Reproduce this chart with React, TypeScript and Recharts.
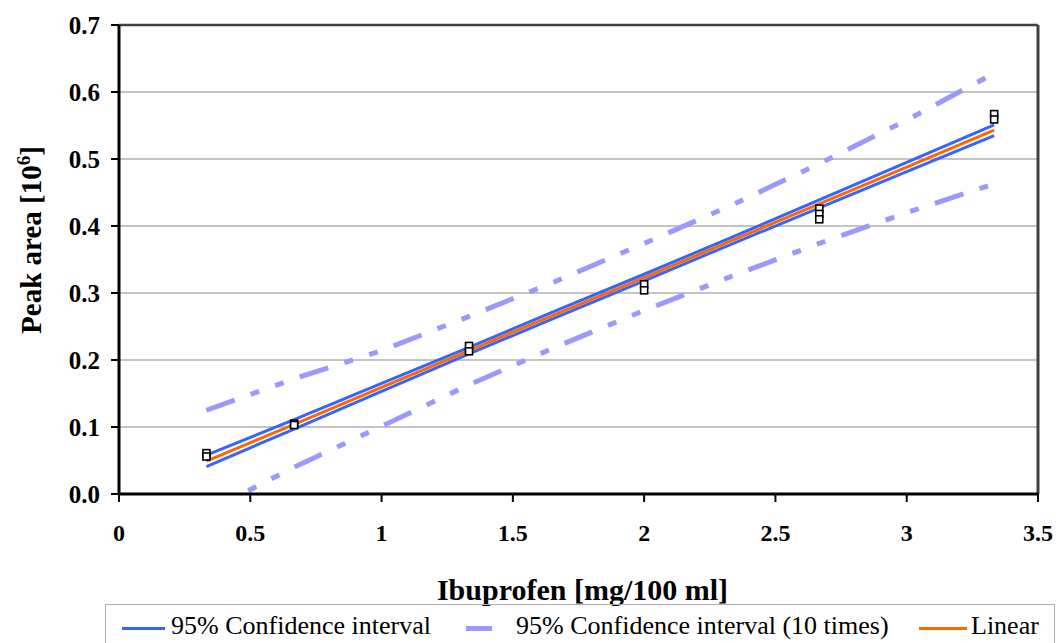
import React from "react";
import {
  ComposedChart,
  Line,
  Scatter,
  XAxis,
  YAxis,
  CartesianGrid,
  ReferenceLine,
  Label,
} from "recharts";

// concentrations where the fit / interval lines are drawn
const lineX = [0.333, 0.667, 1, 1.333, 1.667, 2, 2.333, 2.667, 3, 3.333];
const linear = [0.049, 0.104, 0.159, 0.214, 0.269, 0.323, 0.378, 0.433, 0.488, 0.543];
const ciUpper = [0.058, 0.111, 0.165, 0.219, 0.274, 0.328, 0.383, 0.439, 0.495, 0.551];
const ciLower = [0.041, 0.097, 0.153, 0.209, 0.264, 0.318, 0.373, 0.427, 0.481, 0.535];
const ci10Upper = [0.125, 0.172, 0.214, 0.265, 0.318, 0.374, 0.431, 0.493, 0.558, 0.628];
const ci10Lower = [-0.027, 0.04, 0.101, 0.163, 0.22, 0.274, 0.325, 0.374, 0.42, 0.463];

// measured samples
const sampleX = [0.333, 0.333, 0.667, 0.667, 1.333, 1.333, 2, 2, 2.667, 2.667, 2.667, 3.333, 3.333];
const sampleY = [0.061, 0.056, 0.105, 0.103, 0.221, 0.213, 0.313, 0.304, 0.426, 0.418, 0.41, 0.567, 0.559];

const xTicks = [0, 0.5, 1, 1.5, 2, 2.5, 3, 3.5];
const yTicks = [0, 0.1, 0.2, 0.3, 0.4, 0.5, 0.6, 0.7];

const lineData = lineX.map((x, i) => ({
  x,
  linear: linear[i],
  ciUpper: ciUpper[i],
  ciLower: ciLower[i],
  ci10Upper: ci10Upper[i],
  ci10Lower: ci10Lower[i],
}));
const samples = sampleX.map((x, i) => ({ x, y: sampleY[i] }));

const serif = "Liberation Serif";
const BLUE = "#3366ff";
const LAVENDER = "#9999ff";
const ORANGE = "#ff6600";
const DASH = "30 17 9 17 9 17";

const Square = (props: any) => (
  <rect
    x={props.cx - 3.5}
    y={props.cy - 3.5}
    width={7}
    height={7}
    fill="#fff"
    stroke="#000"
    strokeWidth={1.6}
  />
);

function LegendBox() {
  const item = (left: number, top: number): React.CSSProperties => ({
    position: "absolute",
    left,
    top,
    whiteSpace: "nowrap",
  });
  return (
    <div
      style={{
        position: "absolute",
        left: 105,
        top: 604,
        width: 950,
        height: 45,
        border: "1.5px solid #b0b0b0",
        fontFamily: serif,
        fontSize: 26,
        lineHeight: "30px",
        color: "#000",
        boxSizing: "border-box",
      }}
    >
      <div style={{ ...item(16, 22), width: 43, height: 3, background: BLUE }} />
      <span style={{ ...item(65, 6) }}>95% Confidence interval</span>
      <div style={{ ...item(360, 21), width: 26, height: 5, background: LAVENDER }} />
      <span style={{ ...item(410, 6) }}>95% Confidence interval (10 times)</span>
      <div style={{ ...item(813, 22), width: 48, height: 3, background: ORANGE }} />
      <span style={{ ...item(865, 6) }}>Linear</span>
    </div>
  );
}

export default function App() {
  return (
    <div style={{ position: "absolute", left: 0, top: 0, width: 1058, height: 643, background: "#fff" }}>
      <ComposedChart
        width={1058}
        height={643}
        data={lineData}
        margin={{ top: 25, right: 20, bottom: 39, left: 59 }}
        style={{ fontFamily: serif }}
      >
        <CartesianGrid vertical={false} stroke="#b0b0b0" strokeWidth={1.5} />
        <XAxis
          type="number"
          dataKey="x"
          domain={[0, 3.5]}
          ticks={xTicks}
          tickFormatter={(v: number) => String(v)}
          height={110}
          axisLine={{ stroke: "#000", strokeWidth: 3 }}
          tickLine={{ stroke: "#000", strokeWidth: 2 }}
          tickSize={8}
          tickMargin={22}
          tick={{ fill: "#000", fontFamily: serif, fontWeight: "bold", fontSize: 24 }}
        >
          <Label
            content={(p: any) => (
              <text
                x={p.viewBox.x + p.viewBox.width / 2 + 4}
                y={p.viewBox.y + 106}
                textAnchor="middle"
                fontFamily={serif}
                fontWeight="bold"
                fontSize={30}
                fill="#000"
              >
                Ibuprofen [mg/100 ml]
              </text>
            )}
          />
        </XAxis>
        <YAxis
          type="number"
          domain={[0, 0.7]}
          ticks={yTicks}
          allowDataOverflow
          tickFormatter={(v: number) => v.toFixed(1)}
          width={60}
          axisLine={{ stroke: "#000", strokeWidth: 3 }}
          tickLine={{ stroke: "#000", strokeWidth: 2 }}
          tickSize={8}
          tickMargin={11}
          tick={{ fill: "#000", fontFamily: serif, fontWeight: "bold", fontSize: 25 }}
        >
          <Label
            content={(p: any) => {
              const cx = p.viewBox.x - 18;
              const cy = p.viewBox.y + 215;
              return (
                <text
                  x={cx}
                  y={cy}
                  transform={`rotate(-90 ${cx} ${cy})`}
                  textAnchor="middle"
                  fontFamily={serif}
                  fontWeight="bold"
                  fontSize={29}
                  fill="#000"
                >
                  Peak area [10
                  <tspan dy={-11} fontSize={19}>6</tspan>
                  <tspan dy={11}>]</tspan>
                </text>
              );
            }}
          />
        </YAxis>
        <ReferenceLine y={0.7} stroke="#404040" strokeWidth={2.5} />
        <ReferenceLine x={3.5} stroke="#404040" strokeWidth={3} />

        <Line type="linear" dataKey="ci10Upper" stroke={LAVENDER} strokeWidth={5} strokeDasharray={DASH} dot={false} isAnimationActive={false} />
        <Line type="linear" dataKey="ci10Lower" stroke={LAVENDER} strokeWidth={5} strokeDasharray={DASH} dot={false} isAnimationActive={false} />
        <Line type="linear" dataKey="ciUpper" stroke={BLUE} strokeWidth={3} dot={false} isAnimationActive={false} />
        <Line type="linear" dataKey="ciLower" stroke={BLUE} strokeWidth={3} dot={false} isAnimationActive={false} />
        <Line type="linear" dataKey="linear" stroke={ORANGE} strokeWidth={3} dot={false} isAnimationActive={false} />
        <Scatter data={samples} dataKey="y" shape={Square} isAnimationActive={false} />
      </ComposedChart>
      <LegendBox />
    </div>
  );
}
